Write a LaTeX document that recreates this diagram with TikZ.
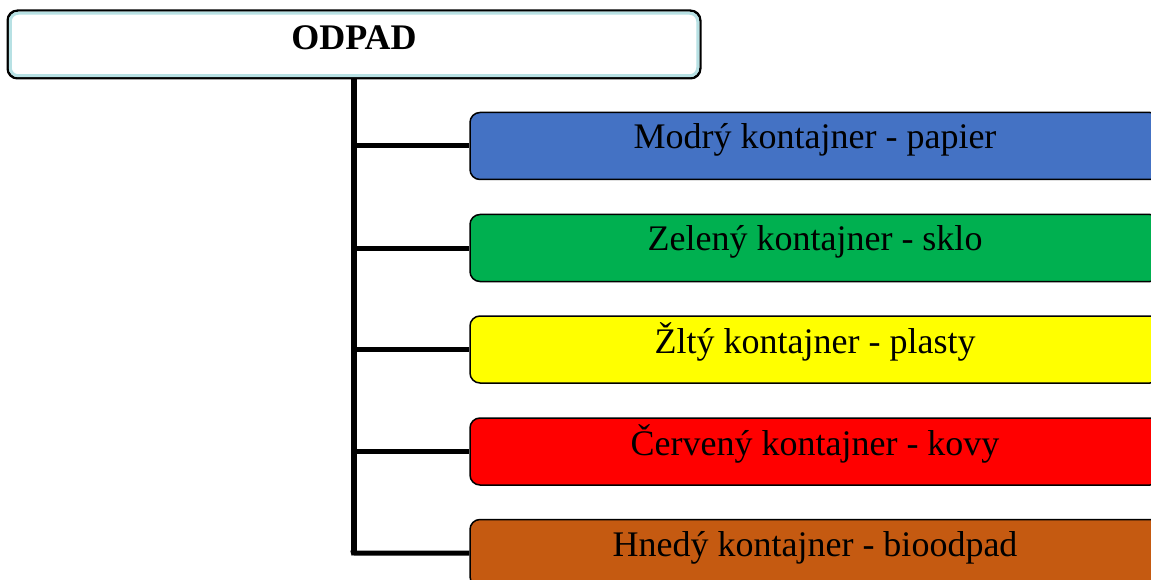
\documentclass[tikz,border=0pt]{standalone}
\usepackage{fontspec}
\setmainfont{Liberation Serif}
\definecolor{cblue}{HTML}{4472C4}
\definecolor{cgreen}{HTML}{00B050}
\definecolor{cyellow}{HTML}{FFFF00}
\definecolor{cred}{HTML}{FF0000}
\definecolor{cbrown}{HTML}{C55A11}
\definecolor{cinner}{HTML}{B7E1E4}
\tikzset{
  topbox/.style={draw=black, fill=white, line width=1.5pt, rounded corners=10pt,
    minimum width=692pt, minimum height=67pt, inner sep=0pt},
  catbox/.style={draw=black, line width=1.5pt, rounded corners=10pt,
    minimum width=690pt, minimum height=67pt, inner sep=0pt},
  lbl/.style={font=\fontsize{36}{40}\selectfont, anchor=base, inner sep=0pt},
  trunk/.style={line width=6pt},
  branch/.style={line width=5pt},
}
\begin{document}
\begin{tikzpicture}[x=1pt, y=-1pt]
\useasboundingbox (0,0) rectangle (1151,580);
\clip (0,0) rectangle (1151,580);
% top box
\node[topbox] (top) at (354,44.5) {};
\draw[cinner, line width=3pt, rounded corners=8pt]
  ([shift={(3,3)}]top.north west) rectangle ([shift={(-3,-3)}]top.south east);
\draw[black, line width=1.5pt, rounded corners=10pt]
  (top.north west) rectangle (top.south east);
\node[lbl, font=\fontsize{36}{40}\selectfont\bfseries] (toplbl) at (354,50) {ODPAD};
% category boxes
\node[catbox, fill=cblue]   (b1) at (815,146)   {};
\node[catbox, fill=cgreen]  (b2) at (815,248)   {};
\node[catbox, fill=cyellow] (b3) at (815,349.5) {};
\node[catbox, fill=cred]    (b4) at (815,451.5) {};
\node[catbox, fill=cbrown]  (b5) at (815,553)   {};
\node[lbl] (t1) at (815,149)   {Modrý kontajner - papier};
\node[lbl] (t2) at (815,251)   {Zelený kontajner - sklo};
\node[lbl] (t3) at (815,353)   {Žltý kontajner - plasty};
\node[lbl] (t4) at (815,455)   {Červený kontajner - kovy};
\node[lbl] (t5) at (815,556)   {Hnedý kontajner - bioodpad};
% connectors
\coordinate (j1) at (top.south |- b1.west);
\coordinate (j2) at (top.south |- b2.west);
\coordinate (j3) at (top.south |- b3.west);
\coordinate (j4) at (top.south |- b4.west);
\coordinate (j5) at (top.south |- b5.west);
\draw[trunk] (top.south) -- (j5);
\draw[branch] (j1) -- (b1.west);
\draw[branch] (j2) -- (b2.west);
\draw[branch] (j3) -- (b3.west);
\draw[branch] (j4) -- (b4.west);
\draw[branch, line join=miter] ([yshift=-2pt]j5) -- ([xshift=-0.5pt]j5) -- (b5.west);
\end{tikzpicture}
\end{document}
